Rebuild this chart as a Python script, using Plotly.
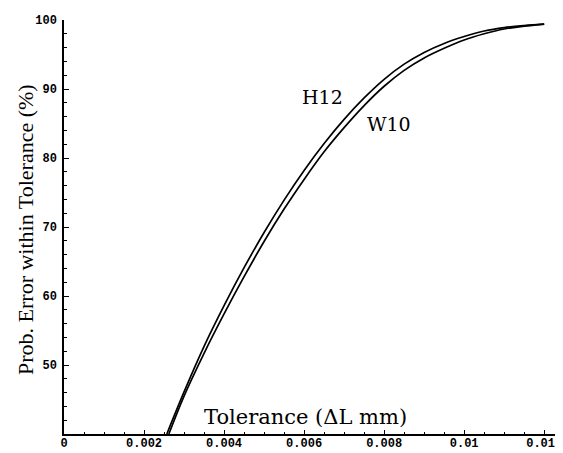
import plotly.graph_objects as go

# Data
tol_h12 = [0.00257, 0.0030, 0.0035, 0.0040, 0.0045, 0.0050, 0.0055, 0.0060, 0.0065, 0.0070,
           0.0075, 0.0080, 0.0085, 0.0090, 0.0095, 0.0100, 0.0105, 0.0110, 0.0115, 0.0120]
prob_h12 = [40.0, 46.1, 52.7, 58.6, 64.1, 69.2, 73.9, 78.2, 82.1, 85.6,
            88.7, 91.4, 93.6, 95.3, 96.6, 97.6, 98.4, 98.9, 99.2, 99.4]

tol_w10 = [0.00262, 0.0030, 0.0035, 0.0040, 0.0045, 0.0050, 0.0055, 0.0060, 0.0065, 0.0070,
           0.0075, 0.0080, 0.0085, 0.0090, 0.0095, 0.0100, 0.0105, 0.0110, 0.0115, 0.0120]
prob_w10 = [40.0, 45.5, 51.7, 57.4, 62.8, 67.9, 72.6, 76.9, 80.9, 84.4,
            87.6, 90.4, 92.7, 94.5, 95.9, 97.1, 98.0, 98.7, 99.1, 99.4]

x_ticks = [0, 0.002, 0.004, 0.006, 0.008, 0.010, 0.012]
x_tick_labels = ["0", "0.002", "0.004", "0.006", "0.008", "0.01", "0.012"]
y_ticks = [50, 60, 70, 80, 90, 100]
y_tick_labels = ["50", "60", "70", "80", "90", "100"]

fig = go.Figure()
fig.add_trace(go.Scatter(x=tol_h12, y=prob_h12, mode="lines", name="H12",
                         line=dict(color="black", width=1.7, shape="spline")))
fig.add_trace(go.Scatter(x=tol_w10, y=prob_w10, mode="lines", name="W10",
                         line=dict(color="black", width=1.7, shape="spline")))

serif = "Liberation Serif, Times New Roman, serif"
serif_wide = "DejaVu Serif, serif"
mono = "Liberation Mono, Courier New, monospace"

W, H = 555, 445
L, R, T, B = 56, 6, 12, 19
fig.update_layout(
    width=W, height=H,
    margin=dict(l=L, r=R, t=T, b=B),
    paper_bgcolor="white", plot_bgcolor="white",
    showlegend=False,
    xaxis=dict(range=[0, 0.01232], tickvals=x_ticks, ticktext=x_tick_labels,
               showline=True, linecolor="black", linewidth=1.5,
               ticks="inside", ticklen=4, tickcolor="black",
               minor=dict(ticks="inside", ticklen=2, dtick=0.0005, tickcolor="black"),
               showgrid=False, zeroline=False, automargin=False,
               ticklabelstandoff=-3, ticklabeloverflow="allow",
               tickfont=dict(family=mono, size=12, color="black", weight="bold"), tickangle=0),
    yaxis=dict(range=[40, 100], tickvals=y_ticks, ticktext=y_tick_labels,
               showline=True, linecolor="black", linewidth=1.5,
               ticks="inside", ticklen=5, tickcolor="black",
               minor=dict(ticks="inside", ticklen=3, dtick=2, tickcolor="black"),
               showgrid=False, zeroline=False, automargin=False,
               ticklabelstandoff=3,
               tickfont=dict(family=mono, size=12, color="black", weight="bold")),
    annotations=[
        dict(text="H12", x=0.00645, y=88.8, xref="x", yref="y", showarrow=False,
             font=dict(family=serif_wide, size=19, color="black")),
        dict(text="W10", x=0.00813, y=84.9, xref="x", yref="y", showarrow=False,
             font=dict(family=serif_wide, size=19, color="black")),
        dict(text="Tolerance (ΔL mm)", x=0.00603, y=42.5, xref="x", yref="y", showarrow=False,
             font=dict(family=serif_wide, size=21, color="black")),
        dict(text="Prob. Error within Tolerance (%)",
             x=(17 - L) / (W - L - R), y=1 - (222 - T) / (H - T - B),
             xref="paper", yref="paper", xanchor="center", yanchor="middle",
             showarrow=False, textangle=-90,
             font=dict(family=serif, size=22, color="black")),
    ],
)

fig.write_html("out.html")
